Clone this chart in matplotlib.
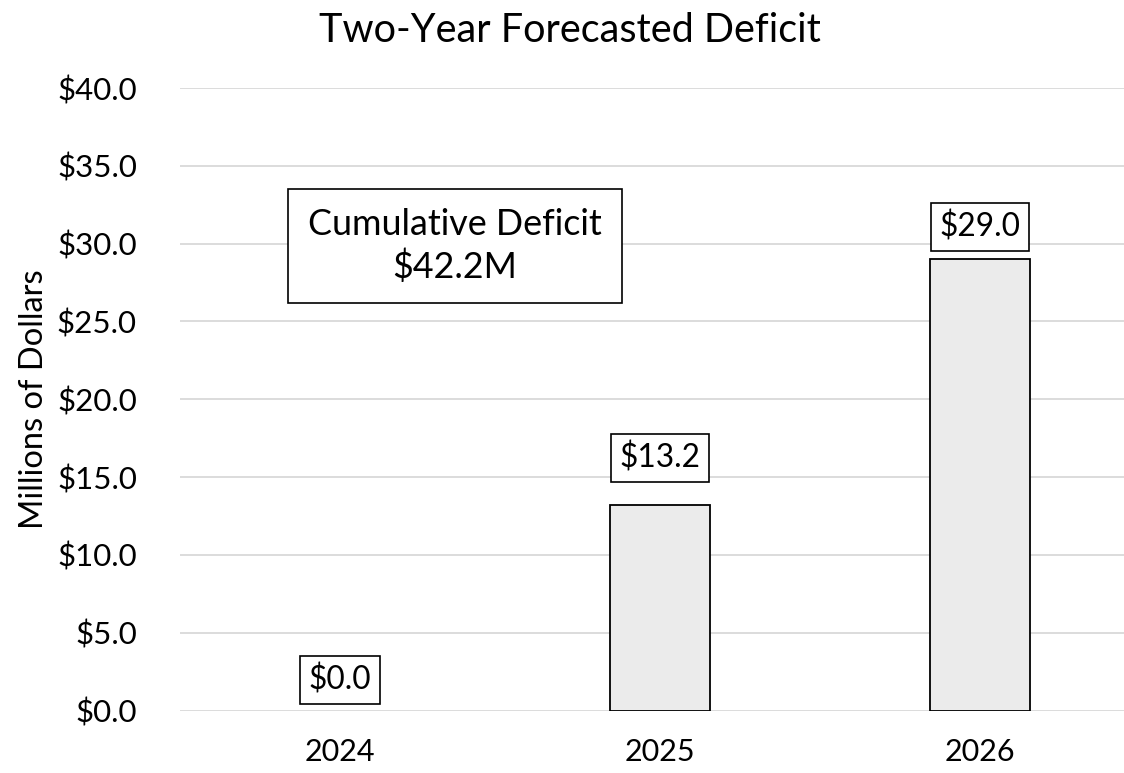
import matplotlib as mpl
mpl.use('Agg')
import matplotlib.pyplot as plt
from matplotlib.ticker import FuncFormatter

years = ['2024', '2025', '2026']
deficit = [0.0, 13.2, 29.0]
total_label = 'Cumulative Deficit\n$42.2M'

plt.rcParams['font.family'] = ['Lato', 'DejaVu Sans']

fig = plt.figure(figsize=(11.24, 7.73), dpi=100)
# plot area runs past the right edge of the picture, as in the original
ax = fig.add_axes([180/1124, 62.5/773, 944/1124, 622.5/773])

x = range(len(years))
edges = [0 if v == 0 else 1.3 for v in deficit]
ax.bar(x, deficit, width=0.315, color='#ebebeb', edgecolor='black', linewidth=edges, zorder=3)

ax.set_xlim(-0.5, 2.45)
ax.set_ylim(0, 40)
ax.set_yticks(range(0, 41, 5))
ax.yaxis.set_major_formatter(FuncFormatter(lambda v, p: '${:.1f}'.format(v)))
ax.set_xticks(list(x))
ax.set_xticklabels(years)
ax.tick_params(axis='both', length=0)
ax.tick_params(axis='y', pad=31, labelsize=22.5)
ax.tick_params(axis='x', pad=20, labelsize=22)
ax.yaxis.grid(True, color='#d9d9d9', linewidth=1.3)
ax.set_axisbelow(True)
for s in ax.spines.values():
	s.set_visible(False)

ax.set_ylabel('Millions of Dollars', fontsize=23.5)
ax.yaxis.set_label_coords(-131/944, 0.5)
fig.text(570/1124, 1 - 31/773, 'Two-Year Forecasted Deficit', ha='center', va='center', fontsize=28.5)

# data labels (manually nudged in the original)
offsets = [22, 34, 23]
for i, v in enumerate(deficit):
	ax.annotate('${:.1f}'.format(v), (i, v), xytext=(0, offsets[i]), textcoords='offset points',
		ha='center', va='center', fontsize=22.8,
		bbox=dict(boxstyle='square,pad=0.27', fc='white', ec='black', lw=1.2))

fig.text(455/1124, 1 - 246/773, total_label, ha='center', va='center', fontsize=25.8, linespacing=1.28,
	bbox=dict(boxstyle='square,pad=0.55', fc='white', ec='black', lw=1.2))

plt.savefig('out.png', dpi=100)
